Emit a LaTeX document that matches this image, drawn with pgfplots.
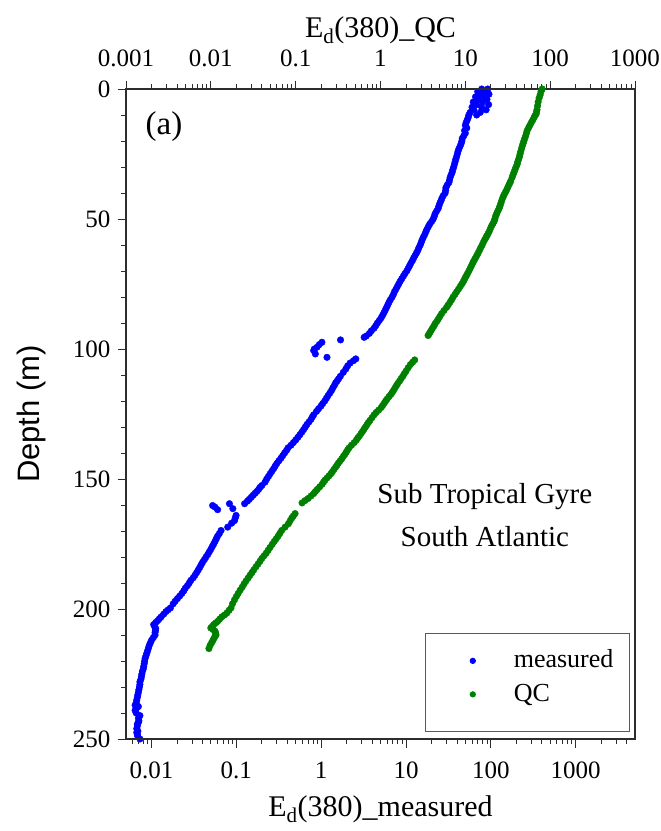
\documentclass[border=0pt]{standalone}
\usepackage{fontspec}
\setmainfont{Liberation Serif}
\newfontfamily\arialfont{Liberation Sans}
\usepackage{pgfplots}
\pgfplotsset{compat=1.18}
\definecolor{axgray}{RGB}{45,45,45}
\definecolor{qcgreen}{RGB}{0,128,0}
\definecolor{legframe}{RGB}{90,90,90}
\begin{document}
\begin{tikzpicture}
\useasboundingbox (-126pt,-92pt) rectangle (535pt,739pt);
\begin{axis}[
  scale only axis, width=509pt, height=650pt, at={(0pt,0pt)}, anchor=south west,
  xmode=log, ymin=0, ymax=250, y dir=reverse,
  tick align=outside, major tick length=8.5pt, minor tick length=5pt,
  every tick/.append style={axgray, line width=0.9pt},
  axis line style={axgray, line width=1.2pt},
  tick label style={font=\fontsize{25}{30}\selectfont},
  /pgf/number format/assume math mode=true,
  xmin=0.005, xmax=5000,
  xtick pos=bottom, ytick pos=left,
  xtick={0.01,0.1,1,10,100,1000},
  xticklabels={0.01,0.1,1,10,100,1000},
  minor xtick={0.006,0.007,0.008,0.009,0.02,0.03,0.04,0.05,0.06,0.07,0.08,0.09,0.2,0.3,0.4,0.5,0.6,0.7,0.8,0.9,2,3,4,5,6,7,8,9,20,30,40,50,60,70,80,90,200,300,400,500,600,700,800,900,2000,3000,4000},
  ytick={0,50,100,150,200,250}, minor y tick num=4,
  xticklabel style={yshift=-11pt},
  yticklabel style={xshift=-3.5pt},
  xlabel={E\textsubscript{d}(380)\_measured},
  xlabel style={font=\fontsize{30}{36}\selectfont, at={(axis description cs:0.5,-0.1185)}, anchor=base},
  ylabel={Depth (m)},
  ylabel style={font=\arialfont\fontsize{31}{37}\selectfont, at={(axis description cs:-0.1866,0.5)}, anchor=center},
]
\addplot[only marks, mark=*, blue, mark size=3.3pt] coordinates {
(78,0) (92,0) (70,1) (88,1) (75,2) (95,2) (66,3) (84,3) (72,4) (90,4) (62,5) (80,5)
(68,6) (94,6) (60,7) (78,7) (63,8) (88,8) (57,9) (75,9) (55,10) (68,10) (54,11) (52.5,12)
(51,13) (50,14) (52,15) (49,16) (50,17) (48,18) (46,19) (45.5,20) (44.6,21) (43.4,22) (42,23)
(41.0,24) (40.2,25) (39.5,26) (38.6,27) (37.9,28) (37.2,29) (36.5,30) (35.6,31) (35.0,32)
(34.0,33) (33.1,34) (32.6,35) (32.0,36) (30.5,37) (29.5,38) (29.3,39) (28.9,40) (27.5,41)
(26.5,42) (25.8,43) (25.0,44) (24.4,45) (23.9,46) (22.9,47) (22.0,48) (21.5,49) (20.9,50)
(20.0,51) (19.0,52) (18.3,53) (17.6,54) (17.1,55) (16.6,56) (16.0,57) (15.5,58) (15.1,59)
(14.7,60) (14.2,61) (13.8,62) (13.3,63) (12.8,64) (12.3,65) (11.9,66) (11.4,67) (11.0,68)
(10.6,69) (10.2,70) (9.7,71) (9.3,72) (8.9,73) (8.51,74) (8.2,75) (7.9,76) (7.6,77) (7.3,78)
(7.1,79) (6.85,80) (6.55,81) (6.3,82) (6.1,83) (5.9,84) (5.7,85) (5.5,86) (5.3,87) (5.1,88)
(4.85,89) (4.6,90) (4.4,91) (4.2,92) (3.9,93) (3.7,94) (3.4,95) (3.21,95.5)
(1.69,96.5) (1.02,97.4) (0.95,98.3) (0.893,99.3) (0.83,100.0) (0.815,100.6) (0.853,101.9) (1.17,103.2)
(2.56,103.8) (2.4,104.5) (2.19,105.4) (2.05,106.5) (1.95,107.7) (1.82,109) (1.68,110.5) (1.6,111.5)
(1.54,112.3) (1.48,113) (1.43,114) (1.37,115) (1.32,116) (1.26,117) (1.2,118) (1.15,119) (1.1,120)
(1.04,121) (0.99,122) (0.93,123) (0.88,124) (0.815,125.3) (0.79,126) (0.76,127) (0.72,128)
(0.68,129) (0.65,130) (0.62,131) (0.59,132) (0.56,133) (0.53,134) (0.5,135) (0.47,136) (0.44,137)
(0.407,138) (0.39,139) (0.37,140) (0.352,141) (0.335,142) (0.317,143) (0.3,144) (0.287,145)
(0.275,146) (0.262,147) (0.25,148) (0.239,149) (0.228,150) (0.218,151.2) (0.2,152.5) (0.19,153.2)
(0.183,154) (0.174,154.8) (0.166,155.5) (0.158,156.2) (0.15,157) (0.142,157.8) (0.135,158.5) (0.125,159.5)
(0.0525,160.2) (0.0601,161.8) (0.056,160.8) (0.0829,159.5) (0.0909,161.4)
(0.0992,164) (0.097,165) (0.0951,166) (0.088,167) (0.0791,168.5) (0.066,169.8) (0.063,171) (0.06,172)
(0.058,173) (0.056,174) (0.054,175) (0.052,176) (0.05,177) (0.048,178) (0.046,179) (0.0439,180)
(0.042,181) (0.04,182) (0.0385,183) (0.037,184) (0.0355,185) (0.034,186) (0.0325,187) (0.031,188)
(0.029,189) (0.0278,190) (0.0265,191) (0.025,192) (0.024,193) (0.0228,194) (0.0215,195) (0.0202,196)
(0.019,197) (0.018,198) (0.0167,199.6) (0.0157,200.3) (0.0148,201) (0.0139,202) (0.013,203)
(0.0124,203.7) (0.0118,204.5) (0.0112,205.2) (0.0106,206) (0.0109,206.8) (0.0112,207.5) (0.0111,208.3)
(0.011,209) (0.011,210) (0.0105,211) (0.01,212) (0.0097,213) (0.0094,214) (0.0092,215) (0.009,216)
(0.0088,217) (0.0086,218) (0.0084,219) (0.0083,220) (0.0082,221) (0.0081,222) (0.008,223) (0.0078,224)
(0.0077,225) (0.0076,226) (0.0075,227) (0.0073,228) (0.0073,229) (0.0072,230) (0.0071,231) (0.007,232)
(0.0069,233) (0.0068,234) (0.0067,235) (0.0066,236) (0.0064,237) (0.007,237.5) (0.0067,238) (0.0064,239)
(0.0066,240) (0.0073,241) (0.007,242) (0.0071,243) (0.007,243.6) (0.0068,244.3) (0.0068,245) (0.0067,246)
(0.0069,247) (0.0067,247.5) (0.0068,248.3) (0.0069,249) (0.0073,250)
};
\node[font=\fontsize{33}{40}\selectfont] at (axis description cs:0.0747,0.9415) {(a)};
\node[font=\fontsize{29}{35}\selectfont, align=center] at (axis description cs:0.705,0.345) {Sub Tropical Gyre\\[8pt]South Atlantic};
\end{axis}
\begin{axis}[
  scale only axis, width=509pt, height=650pt, at={(0pt,0pt)}, anchor=south west,
  xmode=log, ymin=0, ymax=250, y dir=reverse,
  tick align=outside, major tick length=8.5pt, minor tick length=5pt,
  every tick/.append style={axgray, line width=0.9pt},
  axis line style={axgray, line width=1.2pt},
  tick label style={font=\fontsize{25}{30}\selectfont},
  xmin=0.001, xmax=1000,
  hide y axis, xtick pos=top, xticklabel pos=top,
  xtick={0.001,0.01,0.1,1,10,100,1000},
  xticklabels={0.001,0.01,0.1,1,10,100,1000},
  minor xtick={0.002,0.003,0.004,0.005,0.006,0.007,0.008,0.009,0.02,0.03,0.04,0.05,0.06,0.07,0.08,0.09,0.2,0.3,0.4,0.5,0.6,0.7,0.8,0.9,2,3,4,5,6,7,8,9,20,30,40,50,60,70,80,90,200,300,400,500,600,700,800,900},
  xticklabel style={yshift=10pt},
  xlabel={E\textsubscript{d}(380)\_QC},
  xlabel style={font=\fontsize{30}{36}\selectfont, at={(axis description cs:0.5,1.0785)}, anchor=base},
  legend cell align=left,
  legend image code/.code={\path[draw=none] (-33pt,0pt) -- (39pt,0pt); \draw[#1, mark size=2.6pt] plot coordinates {(0pt,5pt)};},
  legend style={at={(axis description cs:0.99,0.011)}, anchor=south east, draw=legframe, line width=1pt,
    inner xsep=14pt, inner ysep=18pt, font=\fontsize{26}{31}\selectfont,
    nodes={inner sep=2pt, text height=14pt, text depth=10pt}, row sep=5.5pt},
]
\addlegendimage{only marks, mark=*, blue}
\addlegendentry{measured\hspace{4pt}}
\addplot[only marks, mark=*, qcgreen, mark size=3.3pt] coordinates {
(80.5,0) (78,1) (76.2,2.3) (74,3.5) (72.2,5) (71,6.5) (70,8) (69,8.8) (68.4,9.6) (66,10.3) (64.5,11)
(62.2,12) (59.8,13) (57.5,14) (55.5,15) (53.6,16) (52.5,17) (51.5,18) (50.2,19) (49,20) (47.9,21)
(46.8,22) (45.9,23) (45,24) (44.2,25) (43.5,26) (42.5,27) (41.5,28) (40.8,29) (39.6,30) (38.5,31)
(37.5,32) (36.5,33) (35.6,34) (34.3,35.4) (33.4,36.2) (32.5,37) (31.5,38) (30.5,39) (29.6,39.8)
(28.7,40.6) (28.1,41.3) (27.5,42) (26.8,43) (26.2,44) (25.6,45) (25.1,45.8) (24.4,46.7) (23.7,47.5)
(23.2,48.3) (22.7,49) (22.3,50) (21.9,50.8) (21.2,51.7) (20.5,52.5) (19.8,53.6) (19.1,54.8) (18.5,55.7)
(17.9,56.5) (17.4,57.3) (16.9,58) (16.3,59) (15.8,60) (15.2,61) (14.7,62) (14.2,63) (13.8,63.8)
(13.3,64.7) (12.9,65.5) (12.5,66.3) (12.2,67) (11.8,68) (11.4,69) (11.0,70) (10.6,71) (10.3,71.8)
(10,72.5) (9.7,73.4) (9.42,74.2) (9.05,75.1) (8.7,76) (8.3,77) (7.9,78) (7.55,79) (7.18,80) (6.9,81)
(6.6,82) (6.3,83) (6,84) (5.6,85.2) (5.25,86.4) (5.0,87.5) (4.8,88.5) (4.6,89.4) (4.4,90.3) (4.25,91.2)
(4.1,92) (3.97,92.8) (3.85,93.5) (3.74,94.2) (3.64,94.8)
(2.53,104.2) (2.39,105.1) (2.25,106) (2.12,107.2) (2.0,108.5) (1.91,109.5) (1.83,110.5) (1.75,111.4)
(1.68,112.3) (1.6,113.2) (1.54,114.1) (1.48,115) (1.42,116) (1.37,116.8) (1.32,117.5) (1.26,118.3)
(1.2,119.2) (1.15,120) (1.11,120.8) (1.06,121.7) (1.02,122.5) (0.95,123.5) (0.89,124.4) (0.841,125.3)
(0.795,126.4) (0.75,127.5) (0.72,128.3) (0.69,129.2) (0.665,130) (0.64,130.8) (0.615,131.7) (0.59,132.5)
(0.565,133.4) (0.54,134.2) (0.52,135) (0.49,136) (0.455,137) (0.427,138) (0.41,138.8) (0.395,139.7)
(0.38,140.5) (0.365,141.3) (0.35,142.2) (0.335,143) (0.32,143.8) (0.307,144.7) (0.295,145.5)
(0.283,146.3) (0.271,147.2) (0.26,148) (0.247,148.8) (0.234,149.6) (0.222,150.4) (0.213,151.2)
(0.205,152) (0.192,153) (0.18,154) (0.171,154.8) (0.163,155.6) (0.152,156.5) (0.14,157.5) (0.129,158.3)
(0.119,159.2)
(0.0984,163.3) (0.094,164.2) (0.09,165) (0.086,166.1) (0.0822,167.2) (0.075,168.5) (0.0684,169.8)
(0.065,170.9) (0.062,172) (0.059,173) (0.056,174) (0.053,175.1) (0.0499,176.3) (0.0474,177.4)
(0.045,178.5) (0.0425,179.5) (0.04,180.5) (0.038,181.6) (0.036,182.7) (0.034,183.8) (0.032,185)
(0.0305,186) (0.029,187) (0.0275,188.1) (0.026,189.2) (0.0247,190.3) (0.0235,191.5) (0.0222,192.7)
(0.021,194) (0.02,195.2) (0.019,196.5) (0.018,198) (0.0173,199.6) (0.0164,200.5) (0.0155,201.5)
(0.0145,202.3) (0.0135,203) (0.0127,203.9) (0.012,204.8) (0.0114,205.4) (0.0108,206) (0.0104,206.7)
(0.01,207.3) (0.0106,207.9) (0.0112,208.5) (0.0114,209.3) (0.0115,210) (0.0111,210.8) (0.0108,211.5)
(0.0105,212.3) (0.0102,213) (0.0098,214) (0.0095,215.2)
};
\addlegendentry{QC}
\end{axis}
\end{tikzpicture}
\end{document}
